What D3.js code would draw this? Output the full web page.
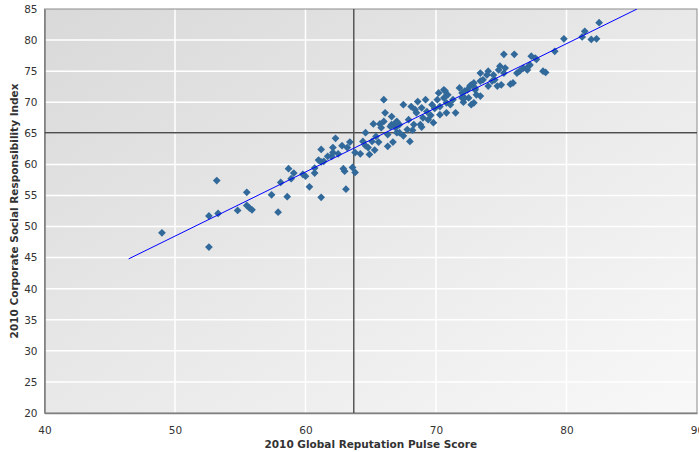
<!DOCTYPE html>
<html>
<head>
<meta charset="utf-8">
<script src="https://cdn.jsdelivr.net/npm/d3@7"></script>
<style>
  html, body { margin: 0; padding: 0; background: #fff; }
  svg { display: block; font-family: "DejaVu Sans", Verdana, sans-serif; }
</style>
</head>
<body>
<svg id="chart" width="699" height="452"></svg>
<script>
// Global Reputation Pulse score (x) against Corporate Social Responsibility index (y), 2010
const pulseScore = [
  49.0, 52.6, 52.6, 53.3, 53.2, 54.8, 55.5, 55.5, 55.7, 55.9,
  57.4, 57.9, 58.6, 58.1, 58.9, 59.1, 58.7, 59.8, 60.0, 60.3,
  60.7, 60.7, 61.0, 61.2, 61.4, 61.2, 61.2, 62.0, 62.3, 62.1,
  62.5, 62.8, 63.4, 63.2, 62.9, 63.0, 63.6, 63.8, 63.1, 63.8,
  64.2, 64.4, 64.6, 64.8, 64.9, 64.6, 65.2, 65.7, 65.1, 65.6,
  65.4, 66.6, 66.7, 66.9, 67.0, 66.0, 66.1, 66.0, 65.8, 66.6,
  66.9, 66.5, 67.2, 67.2, 67.5, 67.9, 67.8, 68.0, 68.1, 68.3,
  68.5, 68.6, 68.9, 69.0, 69.2, 69.3, 69.4, 69.8, 69.7, 70.1,
  70.2, 70.3, 70.6, 70.8, 70.9, 71.5, 71.3, 72.0, 72.1, 72.5,
  72.7, 72.7, 73.0, 73.1, 71.8, 70.6, 75.2, 76.0, 74.9, 74.8,
  74.0, 73.9, 74.4, 74.5, 74.3, 74.0, 75.0, 75.7, 75.9, 73.4,
  72.9, 72.6, 73.0, 73.4, 72.4, 72.2, 72.9, 72.0, 76.2, 76.4,
  76.7, 77.0, 77.1, 77.2, 77.3, 77.6, 77.7, 78.2, 78.4, 79.1,
  75.2, 82.5, 81.4, 81.2, 81.9, 82.3, 79.8, 75.3, 74.7, 73.6,
  73.4, 70.7, 72.2, 62.1, 68.8, 70.8, 68.4, 61.7, 66.3, 67.5,
  68.2, 68.9, 69.6, 70.3, 67.0, 69.9, 71.1, 65.3, 66.3
];
const csrIndex = [
  49.0, 46.7, 51.7, 52.1, 57.4, 52.6, 55.5, 53.4, 53.0, 52.7,
  55.1, 52.3, 54.8, 57.1, 57.7, 58.6, 59.3, 58.4, 58.1, 56.4,
  58.6, 59.4, 60.7, 60.4, 60.5, 62.4, 54.7, 61.3, 64.2, 62.7,
  61.7, 63.0, 63.6, 62.7, 59.3, 58.9, 59.5, 58.7, 56.0, 61.9,
  61.7, 63.7, 63.0, 62.7, 61.6, 65.1, 66.5, 66.5, 63.7, 63.6,
  64.5, 66.4, 63.6, 65.9, 65.1, 70.4, 68.3, 66.9, 65.9, 67.7,
  66.7, 66.1, 66.4, 65.1, 69.6, 67.2, 65.6, 63.7, 69.3, 66.4,
  68.3, 70.1, 69.1, 67.5, 70.4, 68.5, 67.2, 66.7, 69.6, 70.4,
  71.5, 69.3, 70.7, 68.3, 71.2, 68.3, 70.4, 70.7, 70.0, 70.7,
  69.6, 72.8, 72.0, 71.2, 72.3, 72.0, 77.7, 77.7, 75.8, 75.2,
  75.0, 74.4, 74.4, 73.6, 73.4, 72.6, 72.8, 72.9, 73.1, 73.4,
  73.1, 72.6, 72.3, 71.0, 72.0, 70.7, 69.9, 71.5, 74.7, 75.0,
  75.5, 75.2, 75.8, 76.0, 77.4, 77.1, 76.9, 75.0, 74.8, 78.2,
  74.7, 82.8, 81.4, 80.5, 80.1, 80.2, 80.2, 75.5, 72.6, 73.6,
  74.7, 71.8, 71.8, 61.9, 66.4, 69.9, 68.8, 61.3, 64.8, 64.6,
  65.5, 66.0, 67.9, 68.0, 66.9, 69.0, 69.6, 62.3, 62.9
];

// Axis ticks
const xTicks = [40, 50, 60, 70, 80, 90];
const yTicks = [20, 25, 30, 35, 40, 45, 50, 55, 60, 65, 70, 75, 80, 85];

// Reference (quadrant) lines
const xReference = 63.7;
const yReference = 65.1;

// Fitted trend line: y = slope * x + intercept, drawn over [trendFrom, trendTo]
const trendSlope = 1.032;
const trendIntercept = -3.14;
const trendFrom = 46.45;
const trendTo = 85.4;

const xTitle = "2010 Global Reputation Pulse Score";
const yTitle = "2010 Corporate Social Responsibility Index";

const margin = { top: 9, right: 2, bottom: 39, left: 44.5 };
const svg = d3.select("#chart");
const W = +svg.attr("width"), H = +svg.attr("height");
const iw = W - margin.left - margin.right;
const ih = H - margin.top - margin.bottom;

const x = d3.scaleLinear().domain([40, 90]).range([0, iw]);
const y = d3.scaleLinear().domain([20, 85]).range([ih, 0]);

const defs = svg.append("defs");
const grad = defs.append("linearGradient")
  .attr("id", "plotBg").attr("x1", "0%").attr("y1", "0%").attr("x2", "100%").attr("y2", "100%");
grad.append("stop").attr("offset", "0%").attr("stop-color", "#d9d9d9");
grad.append("stop").attr("offset", "100%").attr("stop-color", "#f8f8f8");
defs.append("clipPath").attr("id", "plotClip")
  .append("rect").attr("width", iw).attr("height", ih);

const g = svg.append("g").attr("transform", `translate(${margin.left},${margin.top})`);

g.append("rect").attr("width", iw).attr("height", ih).attr("fill", "url(#plotBg)");

// White grid
g.append("g").selectAll("line").data(yTicks.slice(1, -1)).join("line")
  .attr("x1", 0).attr("x2", iw)
  .attr("y1", d => y(d)).attr("y2", d => y(d))
  .attr("stroke", "#fff").attr("stroke-width", 1.5);
g.append("g").selectAll("line").data(xTicks.slice(1, -1)).join("line")
  .attr("y1", 0).attr("y2", ih)
  .attr("x1", d => x(d)).attr("x2", d => x(d))
  .attr("stroke", "#fff").attr("stroke-width", 1.5);

// Frame
g.append("rect").attr("width", iw).attr("height", ih)
  .attr("fill", "none").attr("stroke", "#8c8c8c").attr("stroke-width", 1);

// Axes (labels only, no tick marks)
const xAxis = g.append("g").attr("transform", `translate(0,${ih})`)
  .call(d3.axisBottom(x).tickValues(xTicks).tickSize(0).tickPadding(14));
const yAxis = g.append("g")
  .call(d3.axisLeft(y).tickValues(yTicks).tickSize(0).tickPadding(7));
[xAxis, yAxis].forEach(a => {
  a.select(".domain").attr("stroke", "#808080").attr("stroke-width", 1.6);
  a.selectAll("text").attr("fill", "#333").style("font-size", "10.5px")
    .style("font-family", "'DejaVu Sans', Verdana, sans-serif");
});

const plot = g.append("g").attr("clip-path", "url(#plotClip)");

// Quadrant reference lines
plot.append("line")
  .attr("x1", x(xReference)).attr("x2", x(xReference)).attr("y1", 0).attr("y2", ih)
  .attr("stroke", "#4d4d4d").attr("stroke-width", 1.4);
plot.append("line")
  .attr("x1", 0).attr("x2", iw).attr("y1", y(yReference)).attr("y2", y(yReference))
  .attr("stroke", "#4d4d4d").attr("stroke-width", 1.4);

// Points
const points = pulseScore.map((v, i) => [v, csrIndex[i]]);
const diamond = d3.symbol().type(d3.symbolSquare).size(30);
plot.append("g").selectAll("path").data(points).join("path")
  .attr("d", diamond)
  .attr("transform", d => `translate(${x(d[0])},${y(d[1])}) rotate(45)`)
  .attr("fill", "#31699a");

// Trend line
const trend = [trendFrom, trendTo].map(v => [v, trendSlope * v + trendIntercept]);
plot.append("path")
  .datum(trend)
  .attr("d", d3.line().x(d => x(d[0])).y(d => y(d[1])))
  .attr("fill", "none").attr("stroke", "#0000ff").attr("stroke-width", 1);

// Axis titles
svg.append("text")
  .attr("x", margin.left + iw / 2).attr("y", H - 4)
  .attr("text-anchor", "middle")
  .attr("fill", "#333").style("font-size", "10.5px").style("font-weight", "bold")
  .text(xTitle);
svg.append("text")
  .attr("transform", `translate(18,${margin.top + ih / 2}) rotate(-90)`)
  .attr("text-anchor", "middle")
  .attr("fill", "#333").style("font-size", "10.5px").style("font-weight", "bold")
  .text(yTitle);
</script>
</body>
</html>
